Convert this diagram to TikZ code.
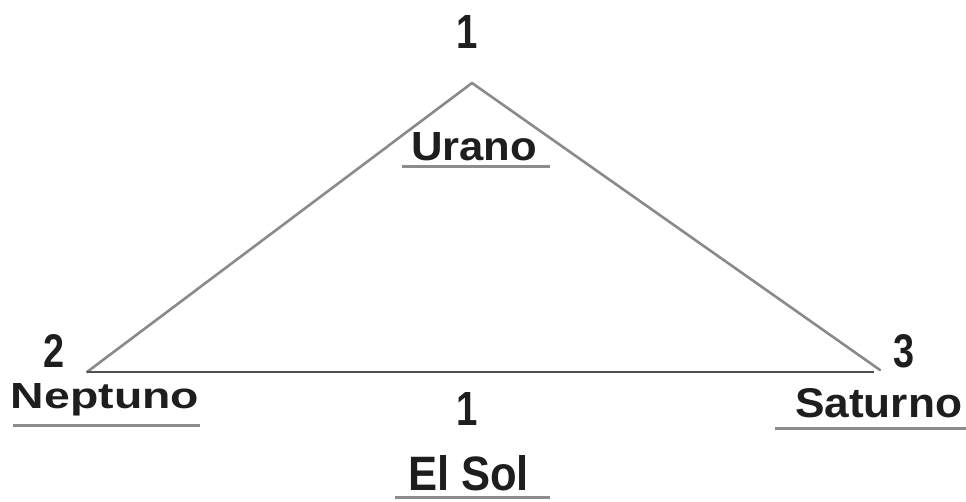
\documentclass[tikz,border=0pt]{standalone}
\usepackage{fontspec}
\usepackage{graphicx}
\setmainfont{Liberation Sans}
\definecolor{txt}{HTML}{1E1E1E}
\definecolor{edge}{HTML}{8A8A8A}
\definecolor{base}{HTML}{505050}
\definecolor{uline}{HTML}{8C8C8C}
\tikzset{
  lbl/.style={inner sep=0pt, outer sep=0pt, text=txt, font=\bfseries},
  num/.style={lbl, anchor=base},
  word/.style={lbl, anchor=base west},
  side/.style={draw=edge, line width=2.6pt},
  bottomside/.style={draw=base, line width=2.6pt},
  uln/.style={draw=uline, line width=3pt}
}
\newcommand{\dig}[1]{\scalebox{0.8}[1]{\resizebox{!}{33pt}{#1}}}
\begin{document}
\begin{tikzpicture}[x=1pt,y=-1pt]
\useasboundingbox (0,0) rectangle (966,501);
% vertices
\coordinate (A) at (472,83);
\coordinate (B) at (87,372);
\coordinate (C) at (880,370);
\coordinate (Cb) at (874,372);
% triangle sides
\draw[side, line cap=round] (A) -- (B);
\draw[side, line cap=round] (A) -- (C);
\draw[bottomside] (B) -- (Cb);
% numbers
\node[num] (n1) at (467,48) {\dig{1}};
\node[num] (n2) at (54,367) {\dig{2}};
\node[num] (n3) at (904,367) {\dig{3}};
\node[num] (n4) at (467,425) {\dig{1}};
% names
\node[word] (urano) at (411,160) {\resizebox{126pt}{28pt}{Urano}};
\node[word] (neptuno) at (11,408) {\resizebox{188pt}{25pt}{Neptuno}};
\node[word] (saturno) at (795,417) {\resizebox{167pt}{29pt}{Saturno}};
\node[word] (elsol) at (408,490) {\resizebox{121pt}{35pt}{El Sol}};
% underlines
\coordinate (u1a) at (402,166); \coordinate (u1b) at (550,166);
\coordinate (u2a) at (13,425);  \coordinate (u2b) at (200,425);
\coordinate (u3a) at (775,428); \coordinate (u3b) at (966,428);
\coordinate (u4a) at (395,497); \coordinate (u4b) at (550,497);
\draw[uln] (u1a) -- (u1b);
\draw[uln] (u2a) -- (u2b);
\draw[uln] (u3a) -- (u3b);
\draw[uln] (u4a) -- (u4b);
\end{tikzpicture}
\end{document}
